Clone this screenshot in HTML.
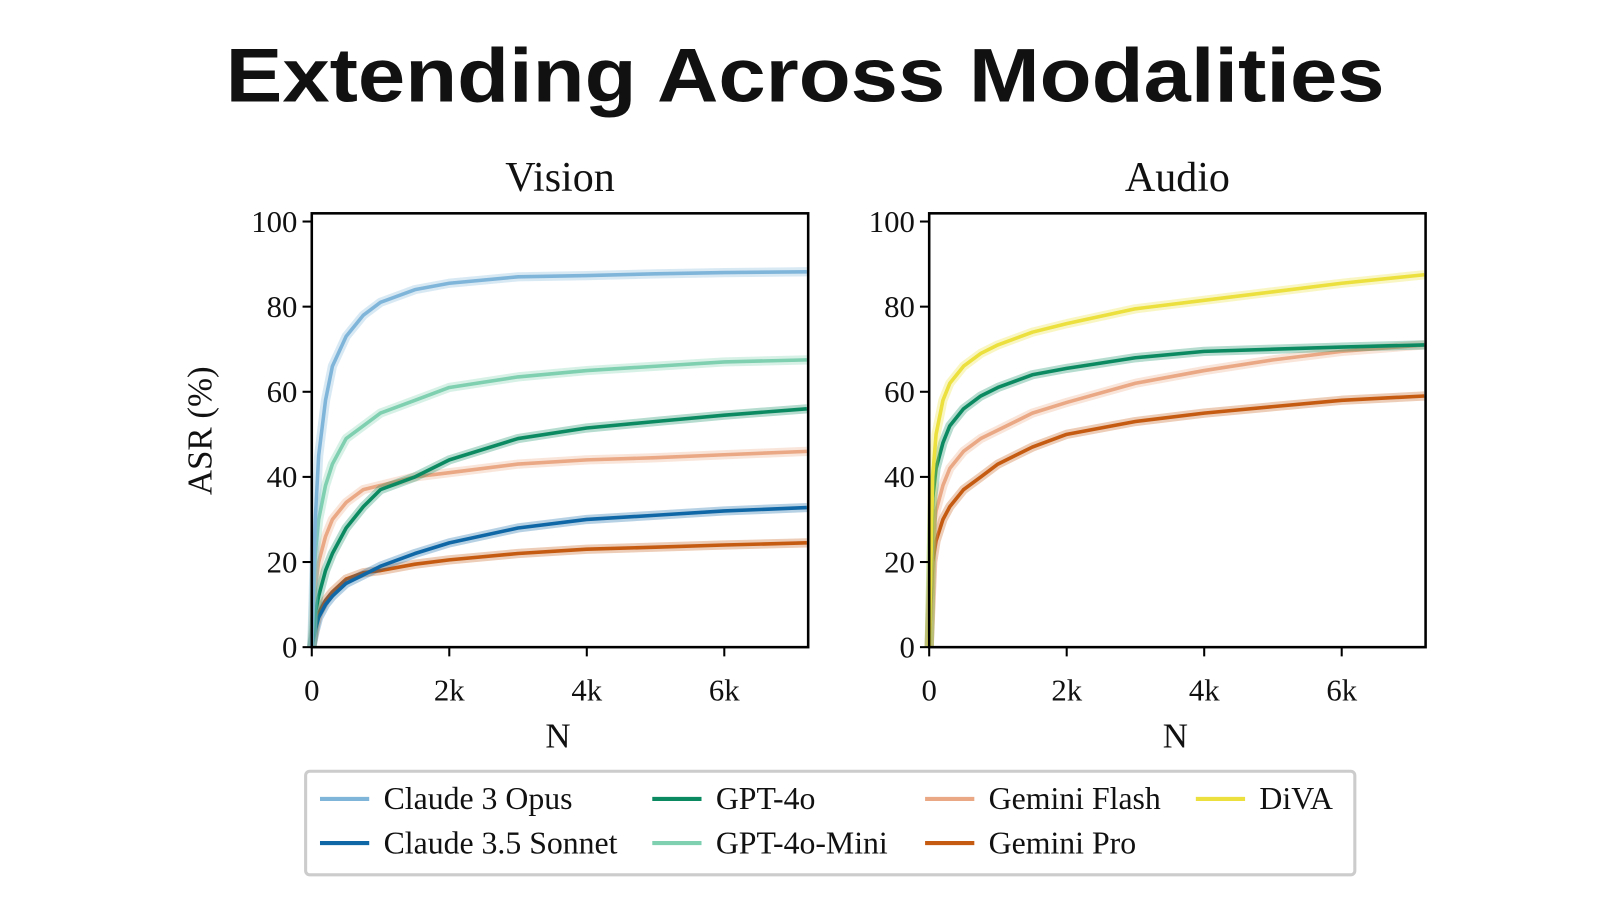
<!DOCTYPE html>
<html><head><meta charset="utf-8"><style>
body{margin:0;background:#fff;}
svg{display:block;}
text{font-family:"Liberation Serif",serif;fill:#111;}
</style></head><body>
<svg id="chart" width="1600" height="900">
<g transform="scale(1.0256)">
<text x="785" y="99" text-anchor="middle" textLength="1130" lengthAdjust="spacingAndGlyphs" style="font-family:'Liberation Sans',sans-serif;font-weight:bold;font-size:74px">Extending Across Modalities</text>
<g id="panels"></g>
<g>
<rect x="298" y="752" width="1023" height="101" fill="#fff" stroke="#ccc" stroke-width="3" rx="4"/>
<g id="legend-items"></g>
</g>
</g>
</svg>
<script>
const Nvals=[0,50,100,200,300,500,750,1000,1500,2000,3000,4000,5000,6000,7200];
const visionOpus=[0,30,45,58,66,73,78,81,84,85.5,87,87.3,87.7,88,88.2];
const visionMini=[0,22,30,38,43,49,52,55,58,61,63.5,65,66,67,67.5];
const vision4o=[0,8,12,18,22,28,33,37,40,44,49,51.5,53,54.5,56];
const visionFlash=[0,14,20,26,30,34,37,38,40,41,43,44,44.5,45.2,46];
const visionSonnet=[0,4,7,10,12,15,17,19,22,24.5,28,30,31,32,32.8];
const visionPro=[0,5,8,11,13,16,17.5,18,19.5,20.5,22,23,23.5,24,24.5];
const audioDiva=[0,40,50,58,62,66,69,71,74,76,79.5,81.5,83.5,85.5,87.5];
const audio4o=[0,35,42,48,52,56,59,61,64,65.5,68,69.5,70,70.5,71];
const audioFlash=[0,25,32,38,42,46,49,51,55,57.5,62,65,67.5,69.5,71];
const audioPro=[0,20,25,30,33,37,40,43,47,50,53,55,56.5,58,59];
const yTicks=[0,20,40,60,80,100];
const xTicks=[0,2000,4000,6000];
const xTickLabels=["0","2k","4k","6k"];
const C={opus:"#80b5da",sonnet:"#0f67a6",g4o:"#0b8a61",mini:"#7fcfb1",flash:"#eaa884",pro:"#c55a11",diva:"#ebe03d"};
const NS="http://www.w3.org/2000/svg";
function el(t,a,p){const e=document.createElementNS(NS,t);for(const k in a)e.setAttribute(k,a[k]);p.appendChild(e);return e;}
const panels=document.getElementById('panels');
function panel(x0,title,series,showY){
  const top=208,bot=631,w=484,xmax=7220;
  const sx=v=>x0+v/xmax*w, sy=v=>631-v*4.15;
  const g=el('g',{},panels);
  
  
  const t=el('text',{x:x0+w/2,y:186,'text-anchor':'middle','font-size':41},g);t.textContent=title;
  
  
  series.forEach(s=>{
    const d=Nvals.map((n,i)=>(i?'L':'M')+sx(n).toFixed(1)+','+sy(s.v[i]).toFixed(1)).join('');
    el('path',{d:d,fill:'none',stroke:s.c,'stroke-width':9,'stroke-opacity':0.3,'stroke-linejoin':'round'},g);
    const p=el('path',{d:d,fill:'none',stroke:s.c,'stroke-width':3.5,'stroke-linejoin':'round'},g);
    
    
  });
  const r=el('rect',{x:x0,y:top,width:w,height:bot-top,fill:'none',stroke:'#000','stroke-width':2.5},g);
  
  
  yTicks.forEach(v=>{
    el('line',{x1:x0-9,x2:x0,y1:sy(v),y2:sy(v),stroke:'#000','stroke-width':2},g);
    const tt=el('text',{x:x0-14,y:sy(v)+10,'text-anchor':'end','font-size':30},g);tt.textContent=v;
    
    
  });
  xTicks.forEach((v,i)=>{
    el('line',{x1:sx(v),x2:sx(v),y1:bot,y2:bot+9,stroke:'#000','stroke-width':2},g);
    const tt=el('text',{x:sx(v),y:683,'text-anchor':'middle','font-size':30},g);tt.textContent=xTickLabels[i];
    
    
  });
  const xl=el('text',{x:x0+w/2-2,y:729,'text-anchor':'middle','font-size':34},g);xl.textContent='N';
  
  
  if(showY){
    const yl=el('text',{x:0,y:0,'text-anchor':'middle','font-size':34,transform:'translate(206,420) rotate(-90)'},g);yl.textContent='ASR (%)';
    
    
  }
}
panel(304,'Vision',[
 {n:'gemini-pro',c:C.pro,v:visionPro},{n:'claude-3-5-sonnet',c:C.sonnet,v:visionSonnet},
 {n:'gemini-flash',c:C.flash,v:visionFlash},{n:'gpt-4o',c:C.g4o,v:vision4o},
 {n:'gpt-4o-mini',c:C.mini,v:visionMini},{n:'claude-3-opus',c:C.opus,v:visionOpus}],true);
panel(906,'Audio',[
 {n:'gemini-pro',c:C.pro,v:audioPro},{n:'gemini-flash',c:C.flash,v:audioFlash},
 {n:'gpt-4o',c:C.g4o,v:audio4o},{n:'diva',c:C.diva,v:audioDiva}],false);
const leg=document.getElementById('legend-items');
[["Claude 3 Opus",C.opus,312,779],["Claude 3.5 Sonnet",C.sonnet,312,822],["GPT-4o",C.g4o,636,779],["GPT-4o-Mini",C.mini,636,822],
 ["Gemini Flash",C.flash,902,779],["Gemini Pro",C.pro,902,822],["DiVA",C.diva,1166,779]].forEach(([n,c,x,y])=>{
  const g=el('g',{},leg);
  
  
  el('line',{x1:x,x2:x+48,y1:y,y2:y,stroke:c,'stroke-width':4},g);
  const t=el('text',{x:x+62,y:y+10,'font-size':31},g);t.textContent=n;
});
</script>
</body></html>
